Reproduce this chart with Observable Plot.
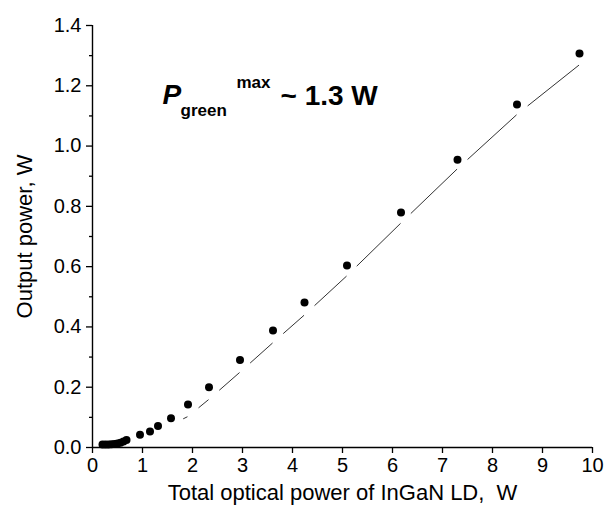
<!DOCTYPE html>
<html>
<head>
<meta charset="utf-8">
<script src="https://cdn.jsdelivr.net/npm/d3@7"></script>
<script src="https://cdn.jsdelivr.net/npm/@observablehq/plot@0.6"></script>
<style>
  html, body { margin: 0; padding: 0; background: #fff; }
  #chart { width: 604px; height: 513px; }
</style>
</head>
<body>
<div id="chart"></div>
<script>
// Measured points: total optical power of InGaN LD (W) vs green output power (W)
const pumpPower = [0.2, 0.26, 0.32, 0.38, 0.44, 0.5, 0.56, 0.62, 0.68, 0.95, 1.15, 1.31, 1.57, 1.91, 2.33, 2.95, 3.61, 4.24, 5.09, 6.17, 7.3, 8.49, 9.74];
const greenPower = [0.01, 0.01, 0.01, 0.011, 0.012, 0.013, 0.016, 0.02, 0.025, 0.042, 0.053, 0.071, 0.097, 0.143, 0.2, 0.29, 0.388, 0.481, 0.604, 0.78, 0.955, 1.138, 1.307];

// Calculated (fit) curve
const fitX = [1.57, 1.91, 2.33, 2.95, 3.61, 4.24, 5.09, 6.17, 7.3, 8.49, 9.74];
const fitY = [0.075, 0.103, 0.16, 0.25, 0.348, 0.44, 0.57, 0.745, 0.925, 1.105, 1.27];

// Axis ticks
const xTicks = [0, 1, 2, 3, 4, 5, 6, 7, 8, 9, 10];
const yMajor = [0.0, 0.2, 0.4, 0.6, 0.8, 1.0, 1.2, 1.4];
const yMinor = [0.1, 0.3, 0.5, 0.7, 0.9, 1.1, 1.3];

// Annotation pieces
const annText = ["P", "green", "max", "~ 1.3 W"];

const points = pumpPower.map((x, i) => ({x, y: greenPower[i]}));
const segs = fitX.slice(0, -1).map((x, i) => ({x1: x, y1: fitY[i], x2: fitX[i + 1], y2: fitY[i + 1]}));

const FONT = "'Liberation Sans', Arial, Helvetica, sans-serif";
const anchor = [{x: 1.4, y: 1.14}];
const annPart = (text, opts) => Plot.text(anchor, {
  x: "x", y: "y", text: () => text, textAnchor: "start", lineAnchor: "bottom",
  fontWeight: "bold", fill: "#000", ...opts
});

const chart = Plot.plot({
  width: 604,
  height: 513,
  marginLeft: 92,
  marginRight: 12,
  marginTop: 25,
  marginBottom: 66,
  style: {fontFamily: FONT, background: "#fff", color: "#000"},
  x: {domain: [0, 10]},
  y: {domain: [0, 1.4]},
  marks: [
    Plot.axisX(xTicks, {tickSize: 6, tickPadding: 4, fontSize: 20, strokeWidth: 1.3, label: null, tickFormat: d3.format("d")}),
    Plot.axisX({ticks: [], label: "Total optical power of InGaN LD,  W", labelAnchor: "center", labelArrow: "none", labelOffset: 52, fontSize: 22}),
    Plot.axisY(yMajor, {tickSize: 6, tickPadding: 5, fontSize: 20, strokeWidth: 1.3, label: null, tickFormat: d3.format(".1f")}),
    Plot.axisY(yMinor, {tickSize: 3, strokeWidth: 1.3, tickFormat: null, text: null, label: null}),
    Plot.axisY({ticks: [], label: "Output power, W", labelAnchor: "center", labelArrow: "none", labelOffset: 76, fontSize: 22}),
    Plot.ruleY([0], {stroke: "#000", strokeWidth: 1.4}),
    Plot.ruleX([0], {stroke: "#000", strokeWidth: 1.4}),
    Plot.arrow(segs, {x1: "x1", y1: "y1", x2: "x2", y2: "y2", headLength: 0, insetStart: 14, insetEnd: 1, stroke: "#333", strokeWidth: 1}),
    Plot.dot(points, {x: "x", y: "y", r: 4, fill: "#000", stroke: "none"}),
    annPart(annText[0], {fontSize: 28, fontStyle: "italic"}),
    annPart(annText[1], {fontSize: 17, dx: 18, dy: 12}),
    annPart(annText[2], {fontSize: 17, dx: 74, dy: -16}),
    annPart(annText[3], {fontSize: 28, dx: 118, dy: 1})
  ]
});

document.getElementById("chart").appendChild(chart);
</script>
</body>
</html>
